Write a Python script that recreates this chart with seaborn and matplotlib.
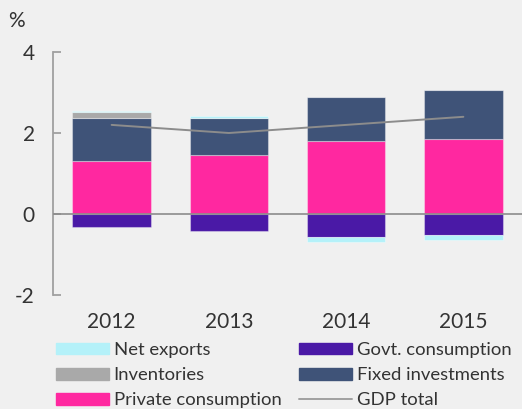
import matplotlib
matplotlib.use('Agg')
import numpy as np
import pandas as pd
import seaborn as sns
import matplotlib.pyplot as plt
from matplotlib.patches import Patch
from matplotlib.lines import Line2D

# --- data (percentage-point contributions to GDP growth) ---
years = ["2012", "2013", "2014", "2015"]
private_consumption = [1.32, 1.45, 1.80, 1.85]
govt_consumption = [-0.33, -0.43, -0.58, -0.53]
fixed_investments = [1.05, 0.93, 1.09, 1.20]
inventories = [0.14, 0.00, 0.00, 0.00]
net_exports = [0.04, 0.05, -0.10, -0.11]
gdp_total = [2.2, 2.0, 2.2, 2.4]

colors = {
    "Net exports": "#b4f1f9",
    "Inventories": "#a9a9a9",
    "Private consumption": "#ff28a0",
    "Govt. consumption": "#4a19a6",
    "Fixed investments": "#3f5378",
}
bg = "#f0f0f0"
txt = "#333333"

sns.set_theme(style="white")
plt.rcParams['font.family'] = ['Lato', 'DejaVu Sans']
plt.rcParams['axes.unicode_minus'] = False

fig = plt.figure(figsize=(5.22, 4.09), dpi=100, facecolor=bg)
ax = fig.add_axes([53 / 522, 1 - 295 / 409, 1 - 53 / 522, (295 - 52) / 409])
ax.set_facecolor(bg)

# stacking order: positives go up, negatives go down
stack = [
    ("Private consumption", private_consumption),
    ("Govt. consumption", govt_consumption),
    ("Fixed investments", fixed_investments),
    ("Inventories", inventories),
    ("Net exports", net_exports),
]
pos = np.zeros(len(years))
neg = np.zeros(len(years))
for name, vals in stack:
    vals = np.array(vals)
    bottom = np.where(vals >= 0, pos, neg)
    df = pd.DataFrame({"year": years, "value": vals})
    sns.barplot(data=df, x="year", y="value", color=colors[name], width=0.67,
                bottom=bottom, edgecolor=(1, 1, 1, 0.35), linewidth=0.8,
                saturation=1, ax=ax)
    pos = pos + np.clip(vals, 0, None)
    neg = neg + np.clip(vals, None, 0)

sns.lineplot(x=np.arange(len(years)), y=gdp_total, color="#8c8c8c", lw=1.4, ax=ax)

ax.axhline(0, color="#8c8c8c", lw=1.2, zorder=3)
ax.set_xlim(-0.5, 3.5)
ax.set_ylim(-2, 4)
ax.set_yticks([-2, 0, 2, 4])
ax.set_xlabel("")
ax.set_ylabel("")
for s in ["top", "right", "bottom"]:
    ax.spines[s].set_visible(False)
ax.spines["left"].set_color("#a0a0a0")
ax.spines["left"].set_linewidth(1.3)
ax.tick_params(axis="y", direction="in", length=6, width=1.3, color="#a0a0a0",
               pad=13, labelsize=15, labelcolor=txt, left=True)
ax.tick_params(axis="x", length=0, pad=12, labelsize=15, labelcolor=txt)

fig.text(8 / 522, 1 - 21 / 409, "%", fontsize=15, color=txt, va="center")

handles = [
    Patch(color=colors["Net exports"]),
    Patch(color=colors["Inventories"]),
    Patch(color=colors["Private consumption"]),
    Patch(color=colors["Govt. consumption"]),
    Patch(color=colors["Fixed investments"]),
    Line2D([], [], color="#a0a0a0", lw=1.4),
]
labels = ["Net exports", "Inventories", "Private consumption",
          "Govt. consumption", "Fixed investments", "GDP total"]
leg = fig.legend(handles, labels, ncol=2, loc="upper left",
                 bbox_to_anchor=(56 / 522, 1 - 342 / 409), frameon=False,
                 fontsize=13.3, handlelength=2.85, handleheight=0.62,
                 handletextpad=0.27, columnspacing=0.95, labelspacing=0.5,
                 borderpad=0, borderaxespad=0)
for t in leg.get_texts():
    t.set_color(txt)

fig.savefig("out.png", dpi=100, facecolor=bg)
